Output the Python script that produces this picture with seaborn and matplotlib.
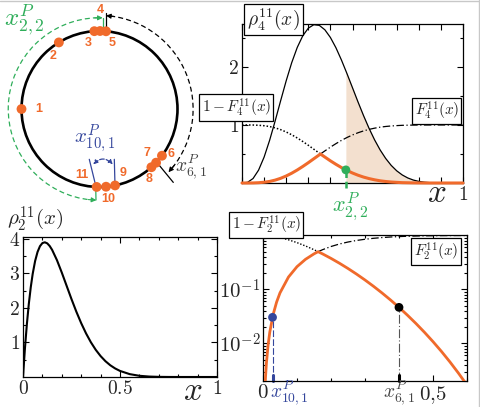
import numpy as np
import matplotlib
matplotlib.use("Agg")
import matplotlib.pyplot as plt
import seaborn as sns
from matplotlib.patches import Circle, Arc
from matplotlib.lines import Line2D

# ---- top right panel: rho_4^11(x) and its tails
x_top = [0.000, 0.025, 0.050, 0.075, 0.100, 0.125, 0.150, 0.175, 0.200, 0.225,
         0.250, 0.275, 0.300, 0.325, 0.350, 0.375, 0.400, 0.425, 0.450, 0.475,
         0.500, 0.525, 0.550, 0.575, 0.600, 0.625, 0.650, 0.675, 0.700, 0.725,
         0.750, 0.775, 0.800, 0.825, 0.850, 0.875, 0.900, 0.925, 0.950, 0.975, 1.000]
rho4 = [0.0, 0.011, 0.077, 0.222, 0.446, 0.736, 1.069, 1.420, 1.762, 2.074,
        2.336, 2.537, 2.668, 2.728, 2.716, 2.640, 2.508, 2.331, 2.119, 1.885,
        1.641, 1.396, 1.161, 0.941, 0.743, 0.570, 0.424, 0.304, 0.210, 0.139,
        0.087, 0.051, 0.028, 0.014, 0.006, 0.002, 0.001, 0.0, 0.0, 0.0, 0.0]
surv4 = [1.0, 1.0, 0.999, 0.995, 0.987, 0.973, 0.950, 0.919, 0.879, 0.831,
         0.776, 0.715, 0.650, 0.582, 0.514, 0.447, 0.382, 0.322, 0.266, 0.216,
         0.172, 0.134, 0.102, 0.076, 0.055, 0.038, 0.026, 0.017, 0.011, 0.006,
         0.004, 0.002, 0.001, 0.0004, 0.0001, 0.0, 0.0, 0.0, 0.0, 0.0, 0.0]
median4 = 0.355
x22 = 0.47
rho4_at_x22 = 1.93
tail4_at_x22 = 0.226

# ---- bottom left panel: rho_2^11(x)
x_rho2 = [0.0, 0.01, 0.02, 0.03, 0.04, 0.05, 0.0625, 0.075, 0.0875, 0.1, 0.1125,
          0.125, 0.1375, 0.15, 0.175, 0.2, 0.225, 0.25, 0.275, 0.3, 0.325, 0.35,
          0.375, 0.4, 0.425, 0.45, 0.475, 0.5, 0.55, 0.6, 0.65, 0.7, 0.75, 0.8, 0.9, 1.0]
rho2 = [0.0, 0.830, 1.531, 2.116, 2.597, 2.985, 3.357, 3.618, 3.785, 3.874, 3.897,
        3.866, 3.790, 3.679, 3.380, 3.020, 2.636, 2.253, 1.889, 1.557, 1.261, 1.004,
        0.786, 0.605, 0.457, 0.339, 0.247, 0.176, 0.083, 0.035, 0.013, 0.004, 0.001,
        0.0002, 0.0, 0.0]

# ---- bottom right panel: tails of rho_2^11 (log scale)
x_log = [0.005, 0.0075, 0.01, 0.015, 0.02, 0.03, 0.04, 0.05, 0.075, 0.1, 0.125, 0.15,
         0.175, 0.2, 0.225, 0.25, 0.275, 0.3, 0.325, 0.35, 0.375, 0.4, 0.425, 0.45,
         0.475, 0.5, 0.525, 0.55, 0.575, 0.6]
surv2 = [0.9989, 0.99757, 0.99573, 0.99065, 0.98382, 0.96549, 0.94185, 0.91386,
         0.83037, 0.73610, 0.63890, 0.54430, 0.45596, 0.37581, 0.30512, 0.24403,
         0.19232, 0.14931, 0.11418, 0.08595, 0.06367, 0.04636, 0.03315, 0.02326,
         0.01598, 0.01074, 0.00705, 0.00450, 0.00279, 0.00168]
median2 = 0.162
x101 = 0.028
tail2_at_x101 = 0.0303
x61 = 0.40
tail2_at_x61 = 0.0464

# ---- circle sketch: 11 points, angle in degrees
point_angles = [180, 121.4, 93.8, 89.6, 85.2, -36.8, -43.5, -48.3, -78.5, -85.2, -92.1]
point_names = ["1", "2", "3", "4", "5", "6", "7", "8", "9", "10", "11"]
label_offsets = [(17, 0), (-6, -14), (-6, -12), (0, 21), (6, -12), (9, 2),
                 (-9, 10), (-2, -12), (8, 12), (2, -12), (-15, 12)]

ORANGE = "#f06a2b"
GREEN = "#2fae5a"
BLUE = "#34469c"
GREY = "#444444"
SHADE = "#f3e0cf"

sns.set_theme(style="ticks")
plt.rcParams["font.family"] = ["Liberation Serif", "DejaVu Serif"]
plt.rcParams["mathtext.fontset"] = "cm"
plt.rcParams["axes.linewidth"] = 0.9
plt.rcParams["xtick.direction"] = "in"
plt.rcParams["ytick.direction"] = "in"

W, H = 480, 407
fig = plt.figure(figsize=(4.8, 4.07), dpi=100)
fig.patch.set_facecolor("white")


def px_axes(left, top, right, bottom):
    return fig.add_axes([left / W, 1 - bottom / H, (right - left) / W, (bottom - top) / H])


def style_ticks(ax, size=12):
    ax.tick_params(which="both", direction="in", top=True, right=True,
                   labelsize=size, pad=2, color="black", width=0.8)
    ax.tick_params(which="major", length=4)
    ax.tick_params(which="minor", length=2.5)
    for s in ax.spines.values():
        s.set_color("black")
        s.set_linewidth(0.9)


def boxed(ax, x, y, txt, size=11):
    ax.text(x, y, txt, transform=ax.transAxes, ha="center", va="center", fontsize=size,
            zorder=10, clip_on=False,
            bbox=dict(boxstyle="square,pad=0.15", fc="white", ec="black", lw=0.9))


def m(s):
    return "" if s == "" else "$" + s + "$"


# ================= circle sketch =================
axc = px_axes(0, 0, 240, 200)
axc.set_xlim(-99.5 / 78, 140.5 / 78)
axc.set_ylim(-91 / 78, 109 / 78)
axc.axis("off")
axc.add_patch(Circle((0, 0), 1, fill=False, lw=1.9, color="black"))
ang = np.deg2rad(point_angles)
pxs, pys = np.cos(ang), np.sin(ang)
sns.scatterplot(x=pxs, y=pys, ax=axc, color=ORANGE, s=50, edgecolor="none", zorder=5)
for name, xx, yy, off in zip(point_names, pxs, pys, label_offsets):
    axc.annotate(name, (xx, yy), xytext=off, textcoords="offset pixels", ha="center",
                 va="center", color=ORANGE, fontweight="bold", fontsize=9,
                 family="Liberation Sans", annotation_clip=False)

# green dashed arc (x_{2,2}^P)
axc.add_patch(Arc((0, 0), 2.34, 2.34, theta1=91, theta2=265, ls=(0, (4, 2.5)),
                  color=GREEN, lw=0.9))
for tip, tail in [(88, 93), (268, 263)]:
    r = 1.17
    axc.annotate("", xy=(r * np.cos(np.deg2rad(tip)), r * np.sin(np.deg2rad(tip))),
                 xytext=(r * np.cos(np.deg2rad(tail)), r * np.sin(np.deg2rad(tail))),
                 arrowprops=dict(arrowstyle="-|>", color=GREEN, lw=0.8, mutation_scale=7,
                                 shrinkA=0, shrinkB=0), annotation_clip=False)
axc.plot([0.041, 0.041], [0.987, 1.167], color=GREEN, lw=0.9)
axc.plot([-0.049, -0.045], [-0.974, -1.167], color=GREEN, lw=0.9, clip_on=False)

# black dashed arc (x_{6,1}^P)
axc.add_patch(Arc((0, 0), 2.4, 2.4, theta1=-39, theta2=83, ls=(0, (4, 2.5)),
                  color="black", lw=0.9))
for tip, tail in [(86, 81), (-42.5, -37)]:
    r = 1.2
    axc.annotate("", xy=(r * np.cos(np.deg2rad(tip)), r * np.sin(np.deg2rad(tip))),
                 xytext=(r * np.cos(np.deg2rad(tail)), r * np.sin(np.deg2rad(tail))),
                 arrowprops=dict(arrowstyle="-|>", color="black", lw=0.8, mutation_scale=7,
                                 shrinkA=0, shrinkB=0), annotation_clip=False)
axc.plot([0.083, 0.083], [0.974, 1.231], color="black", lw=0.9)
axc.plot([0.703, 0.946], [-0.645, -0.941], color="black", lw=0.9)

# blue (x_{10,1}^P)
axc.plot([-0.131, -0.045], [-0.645, -0.996], color=BLUE, lw=0.9)
axc.plot([0.19, 0.199], [-0.645, -0.996], color=BLUE, lw=0.9)
axc.annotate("", xy=(0.17, -0.71), xytext=(-0.08, -0.71),
             arrowprops=dict(arrowstyle="<|-|>", color=BLUE, lw=0.9, ls="--",
                             mutation_scale=6, shrinkA=0, shrinkB=0,
                             connectionstyle="arc3,rad=-0.5"))

axc.text(-0.968, 1.141, r"$x^{P}_{2,2}$", color=GREEN, fontsize=18, ha="center", va="center")
axc.text(-0.058, -0.385, r"$x^{P}_{10,1}$", color=BLUE, fontsize=15, ha="center", va="center")
axc.text(1.173, -0.744, r"$x^{P}_{6,1}$", color=GREY, fontsize=14, ha="center", va="center",
         clip_on=False)

# ================= top right =================
ax1 = px_axes(242, 24, 463, 183)
xt = np.array(x_top)
r4 = np.array(rho4)
s4 = np.array(surv4)
f4 = 1 - s4
lo = xt < median4
hi = ~lo

sel = xt > x22
ax1.fill_between(np.r_[x22, xt[sel]], 0, np.r_[rho4_at_x22, r4[sel]], color=SHADE, lw=0)
sns.lineplot(x=xt, y=r4, ax=ax1, color="black", lw=0.9, estimator=None)
sns.lineplot(x=np.r_[xt[lo], median4], y=np.r_[s4[lo], 0.5], ax=ax1, color="black",
             lw=1.1, ls=(0, (1, 1.3)), estimator=None)
sns.lineplot(x=np.r_[median4, xt[hi]], y=np.r_[0.5, f4[hi]], ax=ax1, color="black",
             lw=0.9, ls=(0, (6, 2, 1, 2)), estimator=None)
sns.lineplot(x=np.r_[xt[lo], median4, xt[hi]], y=np.r_[f4[lo], 0.5, s4[hi]], ax=ax1,
             color=ORANGE, lw=2.2, estimator=None, clip_on=False, zorder=6)
ax1.plot([x22, x22], [tail4_at_x22, -0.08], color=GREEN, lw=1.8, ls=(0, (3, 1.5)),
         clip_on=False, zorder=7)
sns.scatterplot(x=[x22], y=[tail4_at_x22], ax=ax1, color=GREEN, s=40, edgecolor="none",
                zorder=8, clip_on=False)
ax1.set_xlim(0, 1)
ax1.set_ylim(0, 2.74)
ax1.set_xticks(np.arange(0, 1.01, 0.1))
ax1.set_xticklabels([""] * 10 + [m("1")])
ax1.set_yticks([1, 2])
ax1.set_yticklabels([m("1"), m("2")])
ax1.set_yticks(np.arange(0.5, 2.6, 0.5), minor=True)
ax1.set_xlabel("")
ax1.set_ylabel("")
style_ticks(ax1, 14)
boxed(ax1, 0.143, 1.028, r"$\rho_4^{11}(x)$", 14)
boxed(ax1, -0.025, 0.475, r"$1-F_4^{11}(x)$", 11)
boxed(ax1, 0.882, 0.453, r"$F_4^{11}(x)$", 11)
ax1.text(0.882, -0.07, r"$x$", transform=ax1.transAxes, fontsize=24, ha="center", va="center")
ax1.text(0.49, -0.15, r"$x^{P}_{2,2}$", transform=ax1.transAxes, fontsize=16, color=GREEN,
         ha="center", va="center")

# ================= bottom left =================
ax2 = px_axes(23, 237, 217, 377)
sns.lineplot(x=x_rho2, y=rho2, ax=ax2, color="black", lw=1.5, estimator=None)
ax2.set_xlim(0, 1)
ax2.set_ylim(0, 4.05)
ax2.set_xticks([0, 0.5, 1])
ax2.set_xticklabels([m("0"), m("0.5"), m("1")])
ax2.set_xticks(np.arange(0, 1.01, 0.1), minor=True)
ax2.set_yticks([1, 2, 3, 4])
ax2.set_yticklabels([m(t) for t in ["1", "2", "3", "4"]])
ax2.set_yticks(np.arange(0.5, 4.01, 0.5), minor=True)
ax2.set_xlabel("")
ax2.set_ylabel("")
style_ticks(ax2, 14)
ax2.text(0.062, 1.13, r"$\rho_2^{11}(x)$", transform=ax2.transAxes, fontsize=15,
         ha="center", va="center")
ax2.text(0.876, -0.106, r"$x$", transform=ax2.transAxes, fontsize=24, ha="center", va="center")

# ================= bottom right =================
ax3 = px_axes(263, 235, 467, 381)
xl = np.array(x_log)
s2 = np.array(surv2)
f2 = 1 - s2
lo2 = xl < median2
hi2 = ~lo2
ax3.set_yscale("log")
sns.lineplot(x=np.r_[0, xl[lo2], median2], y=np.r_[1.0, s2[lo2], 0.5], ax=ax3, color="black",
             lw=1.0, ls=(0, (1, 1.3)), estimator=None)
sns.lineplot(x=np.r_[median2, xl[hi2]], y=np.r_[0.5, f2[hi2]], ax=ax3, color="black",
             lw=0.9, ls=(0, (6, 2, 1, 2)), estimator=None)
sns.lineplot(x=np.r_[xl[lo2], median2, xl[hi2]], y=np.r_[f2[lo2], 0.5, s2[hi2]], ax=ax3,
             color=ORANGE, lw=2.0, estimator=None, zorder=6)
ybot = 0.002
ax3.plot([x101, x101], [ybot, tail2_at_x101], color=BLUE, lw=0.8, ls=(0, (6, 2)))
ax3.plot([x61, x61], [ybot, tail2_at_x61], color="#555555", lw=0.8, ls=(0, (8, 2, 1, 2)))
ax3.plot([x101, x101], [ybot, 0.0026], color=BLUE, lw=2.2, clip_on=False)
ax3.plot([x61, x61], [ybot, 0.0026], color="black", lw=2.2, clip_on=False)
sns.scatterplot(x=[x101], y=[tail2_at_x101], ax=ax3, color=BLUE, s=40, edgecolor="none", zorder=8)
sns.scatterplot(x=[x61], y=[tail2_at_x61], ax=ax3, color="black", s=40, edgecolor="none", zorder=8)
ax3.set_xlim(0, 0.6)
ax3.set_ylim(ybot, 1.02)
ax3.set_xticks([0, 0.5])
ax3.set_xticklabels([m("0"), m("0{,}5")])
ax3.set_xticks(np.arange(0, 0.61, 0.1), minor=True)
ax3.set_yticks([0.01, 0.1])
ax3.set_yticklabels([m("10^{-2}"), m("10^{-1}")])
ax3.set_xlabel("")
ax3.set_ylabel("")
style_ticks(ax3, size=15)
ax3.tick_params(axis="x", labelsize=15)
xtr = ax3.get_xaxis_transform()
ax3.text(x101 - 0.006, -0.078, r"$x^{P}_{10,1}$", transform=xtr, color=BLUE, fontsize=14,
         ha="left", va="center")
ax3.text(x61, -0.078, r"$x^{P}_{6,1}$", transform=xtr, color=GREY, fontsize=14,
         ha="center", va="center")
boxed(ax3, 0.017, 1.068, r"$1-F_2^{11}(x)$", 11)
boxed(ax3, 0.848, 0.887, r"$F_2^{11}(x)$", 11)

# thin frame lines along the top and right edge
fig.add_artist(Line2D([0, 1], [0.998, 0.998], transform=fig.transFigure, color="#c8c8c8", lw=1))
fig.add_artist(Line2D([0.997, 0.997], [0, 1], transform=fig.transFigure, color="#c8c8c8", lw=1))

fig.savefig("out.png", dpi=100)
